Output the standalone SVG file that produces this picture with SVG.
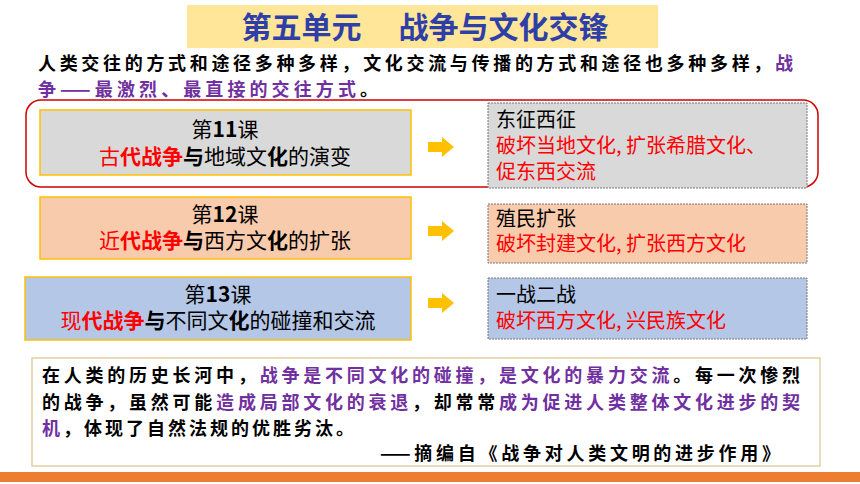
<svg xmlns="http://www.w3.org/2000/svg" width="860" height="484" viewBox="0 0 860 484">
<style>
text{font-family:"Noto Sans CJK SC","Noto Sans",sans-serif}
.k{fill:#000}.r{fill:#ff0000}.p{fill:#7030a0}.b{font-weight:bold}
.lb{stroke:#ffc000;stroke-width:1.5}
.rb{stroke:#777;stroke-width:1;stroke-dasharray:2 1}
</style>
<defs><polygon id="ar" points="0,-5 14,-5 14,-10 26,0 14,10 14,5 0,5" fill="#ffc000"/></defs>
<rect width="860" height="484" fill="#fff"/>
<g id="title"><rect x="187" y="5" width="471" height="43" fill="#ffe699"/>
<text x="425" y="38" text-anchor="middle" font-size="30" font-weight="bold" fill="#2f3fa8">第五单元　   战争与文化交锋</text></g>
<g id="intro" font-size="18" font-weight="bold">
<text x="38" y="70" textLength="755" lengthAdjust="spacing"><tspan class="k">人类交往的方式和途径多种多样，文化交流与传播的方式和途径也多种多样，</tspan><tspan class="p">战</tspan></text>
<text x="38" y="96" textLength="340" lengthAdjust="spacing"><tspan class="p">争——最激烈、最直接的交往方式</tspan><tspan class="k">。</tspan></text></g>
<rect x="26" y="100" width="792" height="87" rx="15" fill="none" stroke="#d00000" stroke-width="1.5"/>
<g id="l11"><rect class="lb" x="40" y="110" width="371" height="65" fill="#d9d9d9"/>
<text x="225" y="137" text-anchor="middle" font-size="21">第<tspan font-weight="bold">11</tspan>课</text>
<text x="225" y="164" text-anchor="middle" font-size="21"><tspan class="r">古</tspan><tspan class="r b">代战争</tspan><tspan class="b">与</tspan>地域文<tspan class="b">化</tspan>的演变</text></g>
<g id="r11"><rect class="rb" x="488" y="103" width="319" height="85" fill="#d9d9d9"/>
<text x="496" y="127" font-size="20">东征西征</text>
<text class="r" x="496" y="153" font-size="20">破坏当地文化, 扩张希腊文化、</text>
<text class="r" x="496" y="179" font-size="20">促东西交流</text></g>
<g id="l12"><rect class="lb" x="40" y="197" width="371" height="62" fill="#f8cbad"/>
<text x="225" y="222" text-anchor="middle" font-size="21">第<tspan font-weight="bold">12</tspan>课</text>
<text x="225" y="248" text-anchor="middle" font-size="21"><tspan class="r">近</tspan><tspan class="r b">代战争</tspan><tspan class="b">与</tspan>西方文<tspan class="b">化</tspan>的扩张</text></g>
<g id="r12"><rect class="rb" x="488" y="204" width="319" height="59" fill="#f8cbad"/>
<text x="496" y="226" font-size="20">殖民扩张</text>
<text class="r" x="496" y="251" font-size="20">破坏封建文化, 扩张西方文化</text></g>
<g id="l13"><rect class="lb" x="25" y="277" width="386" height="63" fill="#b4c7e7"/>
<text x="218" y="302" text-anchor="middle" font-size="21">第<tspan font-weight="bold">13</tspan>课</text>
<text x="218" y="328" text-anchor="middle" font-size="21"><tspan class="r">现</tspan><tspan class="r b">代战争</tspan><tspan class="b">与</tspan>不同文<tspan class="b">化</tspan>的碰撞和交流</text></g>
<g id="r13"><rect class="rb" x="488" y="278" width="319" height="61" fill="#b4c7e7"/>
<text x="496" y="302" font-size="20">一战二战</text>
<text class="r" x="496" y="328" font-size="20">破坏西方文化, 兴民族文化</text></g>
<g id="connectors">
<use href="#ar" x="428" y="147"/><use href="#ar" x="428" y="231"/><use href="#ar" x="428" y="303"/></g>
<g id="quote"><rect x="32" y="358" width="788" height="108" fill="#fff" stroke="#e2cfa0" stroke-width="1.5"/>
<g font-size="18" font-weight="bold">
<text x="42" y="382" textLength="758" lengthAdjust="spacing"><tspan class="k">在人类的历史长河中，</tspan><tspan class="p">战争是不同文化的碰撞，是文化的暴力交流</tspan><tspan class="k">。每一次惨烈</tspan></text>
<text x="42" y="409" textLength="758" lengthAdjust="spacing"><tspan class="k">的战争，虽然可能</tspan><tspan class="p">造成局部文化的衰退</tspan><tspan class="k">，却常常</tspan><tspan class="p">成为促进人类整体文化进步的契</tspan></text>
<text x="42" y="435" letter-spacing="3"><tspan class="p">机</tspan><tspan class="k">，体现了自然法规的优胜劣汰。</tspan></text>
<text x="380" y="460" textLength="400" lengthAdjust="spacing">——摘编自《战争对人类文明的进步作用》</text></g></g>
<rect x="0" y="472" width="860" height="10" fill="#ed7d31"/>
</svg>
